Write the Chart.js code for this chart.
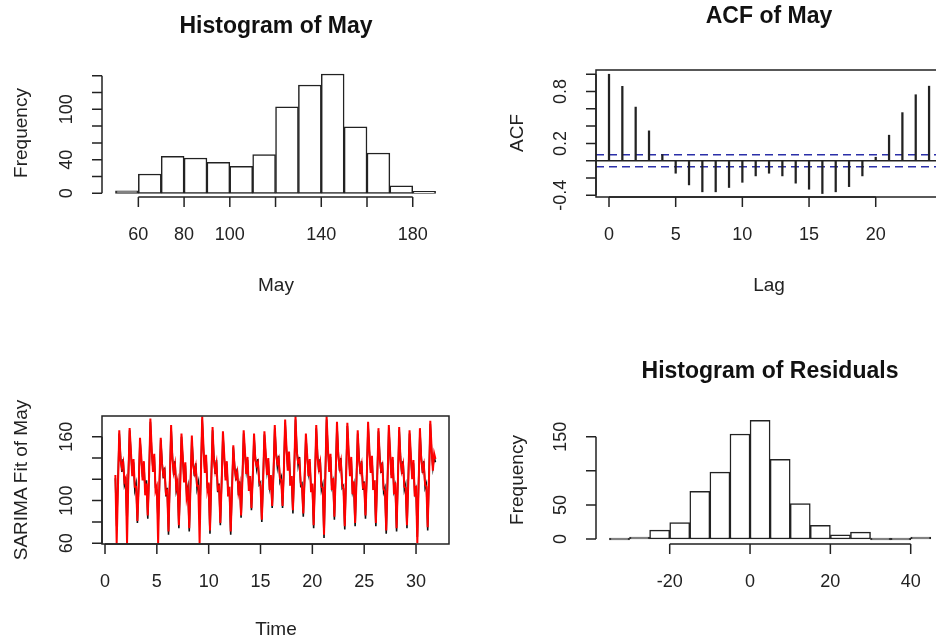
<!DOCTYPE html>
<html>
<head>
<meta charset="utf-8">
<script src="https://cdn.jsdelivr.net/npm/chart.js@4.4.1/dist/chart.umd.min.js"></script>
<style>
  body { margin: 0; width: 936px; height: 643px; overflow: hidden; background: #fff; position: relative;
         font-family: "Liberation Sans", Arial, sans-serif; color: #222; }
  canvas { position: absolute; left: 0; top: 0; }
  .t { position: absolute; white-space: nowrap; transform: translate(-50%, -50%); line-height: 1; }
  .main { font-weight: bold; font-size: 23px; color: #111; }
  .lab { font-size: 19px; }
  .rot { transform: translate(-50%, -50%) rotate(-90deg); }
</style>
</head>
<body>
<canvas id="c1" width="960" height="643"></canvas>
<canvas id="c2" width="960" height="643"></canvas>
<canvas id="c3" width="960" height="643"></canvas>
<canvas id="c4" width="960" height="643"></canvas>

<div class="t main" style="left:276px;top:25px">Histogram of May</div>
<div class="t main" style="left:769px;top:15px">ACF of May</div>
<div class="t main" style="left:770px;top:370px">Histogram of Residuals</div>
<div class="t lab" style="left:276px;top:284px">May</div>
<div class="t lab" style="left:769px;top:284px">Lag</div>
<div class="t lab" style="left:276px;top:628px">Time</div>
<div class="t lab rot" style="left:20px;top:133px">Frequency</div>
<div class="t lab rot" style="left:516px;top:133px">ACF</div>
<div class="t lab rot" style="left:20px;top:480px">SARIMA Fit of May</div>
<div class="t lab rot" style="left:516px;top:480px">Frequency</div>

<script>
// histogram of May
let mayEdges = [50, 60, 70, 80, 90, 100, 110, 120, 130, 140, 150, 160, 170, 180, 190];
let mayCounts = [3, 23, 44, 42, 37, 32, 46, 103, 129, 142, 79, 48, 9, 2];
let mayXTicks = [60, 80, 100, 120, 140, 160, 180];
let mayXLabels = ["60", "80", "100", "", "140", "", "180"];
let mayYTicks = [0, 20, 40, 60, 80, 100, 120, 140];
let mayYLabels = ["0", "", "40", "", "", "100", "", ""];

// ACF of May
let lags = [0, 1, 2, 3, 4, 5, 6, 7, 8, 9, 10, 11, 12, 13, 14, 15, 16, 17, 18, 19, 20, 21, 22, 23, 24];
let acfValues = [1.0, 0.86, 0.62, 0.345, 0.07, -0.145, -0.28, -0.36, -0.36, -0.31, -0.25, -0.176, -0.145,
                 -0.176, -0.26, -0.33, -0.38, -0.36, -0.30, -0.176, 0.04, 0.295, 0.556, 0.763, 0.862];
let acfLimit = 0.07;
let acfXTicks = [0, 5, 10, 15, 20];
let acfXLabels = ["0", "5", "10", "15", "20"];
let acfYTicks = [-0.4, -0.2, 0, 0.2, 0.4, 0.6, 0.8, 1.0];
let acfYLabels = ["-0.4", "", "", "0.2", "", "", "0.8", ""];

// SARIMA fit, 8 readings per day, day 1 to day 32
let fitStart = 1;
let perDay = 8;
let mayObserved = [
  121, 76, 119, 163, 141, 127, 139, 114,
  118, 77, 124, 166, 144, 126, 136, 110,
  116, 79, 117, 157, 138, 122, 134, 108,
  119, 83, 126, 174, 146, 130, 141, 112,
  110, 78, 114, 157, 137, 121, 131, 104,
  112, 68, 120, 168, 142, 124, 137, 109,
  115, 74, 116, 160, 139, 120, 133, 106,
  113, 71, 118, 158, 136, 123, 135, 111,
  117, 82, 128, 176, 147, 129, 140, 113,
  114, 69, 121, 166, 141, 125, 138, 108,
  116, 77, 119, 162, 140, 122, 134, 107,
  110, 68, 112, 150, 133, 119, 130, 105,
  118, 84, 121, 163, 143, 128, 138, 112,
  120, 91, 124, 160, 141, 130, 139, 115,
  117, 80, 120, 162, 142, 127, 137, 113,
  121, 93, 127, 168, 146, 132, 142, 118,
  122, 93, 130, 173, 148, 131, 143, 117,
  120, 88, 129, 176, 149, 133, 141, 114,
  116, 85, 122, 160, 140, 126, 136, 111,
  113, 74, 121, 168, 143, 127, 139, 110,
  115, 65, 124, 176, 147, 130, 141, 113,
  118, 82, 126, 171, 145, 128, 140, 112,
  114, 73, 122, 170, 144, 126, 138, 109,
  115, 76, 119, 163, 141, 125, 137, 110,
  118, 83, 125, 171, 145, 129, 139, 113,
  116, 76, 121, 165, 142, 126, 136, 108,
  112, 69, 120, 168, 143, 124, 138, 109,
  114, 71, 121, 166, 141, 125, 137, 110,
  115, 74, 119, 163, 140, 123, 135, 107,
  111, 66, 118, 165, 142, 126, 137, 112,
  116, 72, 123, 172, 146, 131, 141, 136
];
let mayFitted = [
  124, 60, 112, 166, 138, 131, 136, 118,
  121, 60, 120, 168, 146, 123, 139, 113,
  113, 81, 113, 159, 141, 119, 137, 105,
  116, 86, 122, 177, 149, 127, 144, 109,
  113, 60, 118, 159, 134, 124, 128, 107,
  109, 71, 116, 171, 139, 127, 134, 112,
  118, 77, 112, 163, 142, 117, 136, 103,
  110, 74, 114, 161, 133, 126, 132, 114,
  114, 60, 124, 179, 150, 126, 143, 110,
  117, 72, 117, 169, 138, 128, 135, 111,
  113, 79, 116, 165, 143, 119, 137, 104,
  113, 71, 109, 152, 130, 122, 127, 108,
  115, 86, 118, 166, 146, 125, 141, 109,
  123, 93, 121, 163, 138, 133, 136, 118,
  114, 82, 117, 165, 145, 124, 140, 110,
  124, 95, 124, 171, 143, 135, 139, 121,
  119, 95, 127, 176, 151, 128, 146, 114,
  123, 91, 126, 179, 146, 136, 138, 117,
  113, 88, 119, 163, 143, 123, 139, 108,
  116, 77, 118, 171, 140, 130, 136, 113,
  112, 68, 121, 179, 150, 127, 144, 110,
  121, 85, 123, 174, 142, 131, 137, 115,
  111, 76, 119, 173, 147, 123, 141, 106,
  118, 79, 116, 166, 138, 128, 134, 113,
  115, 86, 122, 174, 148, 126, 142, 110,
  119, 79, 118, 168, 139, 129, 133, 111,
  109, 72, 117, 171, 146, 121, 141, 106,
  117, 74, 118, 169, 138, 128, 134, 113,
  112, 77, 116, 166, 143, 120, 138, 104,
  114, 60, 115, 168, 139, 129, 134, 115,
  113, 75, 120, 175, 149, 128, 144, 139
];
let fitXTicks = [0, 5, 10, 15, 20, 25, 30];
let fitXLabels = ["0", "5", "10", "15", "20", "25", "30"];
let fitYTicks = [60, 80, 100, 120, 140, 160];
let fitYLabels = ["60", "", "100", "", "", "160"];

// histogram of residuals
let resEdges = [-35, -30, -25, -20, -15, -10, -5, 0, 5, 10, 15, 20, 25, 30, 35, 40, 45];
let resCounts = [0, 2, 13, 24, 70, 98, 154, 174, 117, 52, 20, 6, 10, 0, 0, 2];
let resXTicks = [-20, 0, 20, 40];
let resXLabels = ["-20", "0", "20", "40"];
let resYTicks = [0, 50, 100, 150];
let resYLabels = ["0", "50", "", "150"];

const W = 960, H = 643;
const ink = "#222";

// R style axes: line from first to last tick, ticks outwards, y labels turned
const rAxes = {
  id: "rAxes",
  afterDraw(chart, args, o) {
    const ctx = chart.ctx, a = chart.chartArea;
    const sx = chart.scales.x, sy = chart.scales.y;
    ctx.save();
    ctx.strokeStyle = ink;
    ctx.fillStyle = ink;
    ctx.lineWidth = 1.5;
    ctx.font = '18px "Liberation Sans", Arial, sans-serif';
    if (o.box) ctx.strokeRect(a.left, a.top, a.right - a.left, a.bottom - a.top);

    const xs = o.xTicks.map(v => sx.getPixelForValue(v));
    ctx.beginPath();
    ctx.moveTo(xs[0], a.bottom);
    ctx.lineTo(xs[xs.length - 1], a.bottom);
    xs.forEach(p => { ctx.moveTo(p, a.bottom); ctx.lineTo(p, a.bottom + 10); });
    ctx.stroke();
    ctx.textAlign = "center";
    ctx.textBaseline = "middle";
    o.xLabels.forEach((t, i) => { if (t) ctx.fillText(t, xs[i], a.bottom + 38); });

    const ys = o.yTicks.map(v => sy.getPixelForValue(v));
    ctx.beginPath();
    ctx.moveTo(a.left, ys[0]);
    ctx.lineTo(a.left, ys[ys.length - 1]);
    ys.forEach(p => { ctx.moveTo(a.left, p); ctx.lineTo(a.left - 10, p); });
    ctx.stroke();
    o.yLabels.forEach((t, i) => {
      if (!t) return;
      ctx.save();
      ctx.translate(a.left - 35, ys[i]);
      ctx.rotate(-Math.PI / 2);
      ctx.fillText(t, 0, 0);
      ctx.restore();
    });
    ctx.restore();
  }
};

function options(area, xRange, yRange, axes) {
  return {
    responsive: false,
    animation: false,
    devicePixelRatio: 1,
    layout: { padding: { left: area[0], top: area[1], right: W - area[2], bottom: H - area[3] } },
    plugins: { legend: { display: false }, tooltip: { enabled: false }, rAxes: axes },
    scales: {
      x: { type: "linear", display: false, offset: false, grid: { offset: false }, min: xRange[0], max: xRange[1] },
      y: { type: "linear", display: false, min: yRange[0], max: yRange[1] }
    }
  };
}

function histData(edges, counts) {
  return counts.map((c, i) => ({ x: (edges[i] + edges[i + 1]) / 2, y: c }));
}

function histDataset(edges, counts) {
  return {
    type: "bar",
    data: histData(edges, counts),
    backgroundColor: "#fff",
    borderColor: ink,
    borderWidth: 1.5,
    borderSkipped: false,
    barPercentage: 1,
    categoryPercentage: 1,
    minBarLength: 2
  };
}

new Chart(document.getElementById("c1"), {
  type: "bar",
  data: { datasets: [histDataset(mayEdges, mayCounts)] },
  options: options([102, 69, 450, 197], [44.1, 196.3], [-4.4, 148],
    { xTicks: mayXTicks, xLabels: mayXLabels, yTicks: mayYTicks, yLabels: mayYLabels }),
  plugins: [rAxes]
});

const acfMin = -0.975, acfMax = 24.97;
new Chart(document.getElementById("c2"), {
  type: "bar",
  data: {
    datasets: [
      { type: "bar", data: lags.map((l, i) => ({ x: l, y: acfValues[i] })),
        backgroundColor: ink, barThickness: 1.6, order: 0 },
      { type: "line", data: [{ x: acfMin, y: 0 }, { x: acfMax, y: 0 }],
        borderColor: ink, borderWidth: 1.5, pointRadius: 0, order: 1 },
      { type: "line", data: [{ x: acfMin, y: acfLimit }, { x: acfMax, y: acfLimit }],
        borderColor: "#2b2fa8", borderWidth: 1.5, borderDash: [8, 5], pointRadius: 0, order: 1 },
      { type: "line", data: [{ x: acfMin, y: -acfLimit }, { x: acfMax, y: -acfLimit }],
        borderColor: "#2b2fa8", borderWidth: 1.5, borderDash: [8, 5], pointRadius: 0, order: 1 }
    ]
  },
  options: options([596, 70, 942, 197], [acfMin, acfMax], [-0.42, 1.049],
    { box: true, xTicks: acfXTicks, xLabels: acfXLabels, yTicks: acfYTicks, yLabels: acfYLabels }),
  plugins: [rAxes]
});

const timeOf = i => fitStart + i / perDay;
new Chart(document.getElementById("c3"), {
  type: "line",
  data: {
    datasets: [
      { data: mayFitted.map((v, i) => ({ x: timeOf(i), y: v })),
        borderColor: "#ff0000", borderWidth: 2, pointRadius: 0, tension: 0, order: 0 },
      { data: mayObserved.map((v, i) => ({ x: timeOf(i), y: v })),
        borderColor: "#111", borderWidth: 1.6, pointRadius: 0, tension: 0, order: 1 }
    ]
  },
  options: options([102, 416, 449, 544], [-0.29, 33.18], [59.3, 179.4],
    { box: true, xTicks: fitXTicks, xLabels: fitXLabels, yTicks: fitYTicks, yLabels: fitYLabels }),
  plugins: [rAxes]
});

new Chart(document.getElementById("c4"), {
  type: "bar",
  data: { datasets: [histDataset(resEdges, resCounts)] },
  options: options([596, 416, 944, 544], [-38.35, 48.29], [-7.33, 180.35],
    { xTicks: resXTicks, xLabels: resXLabels, yTicks: resYTicks, yLabels: resYLabels }),
  plugins: [rAxes]
});
</script>
</body>
</html>
